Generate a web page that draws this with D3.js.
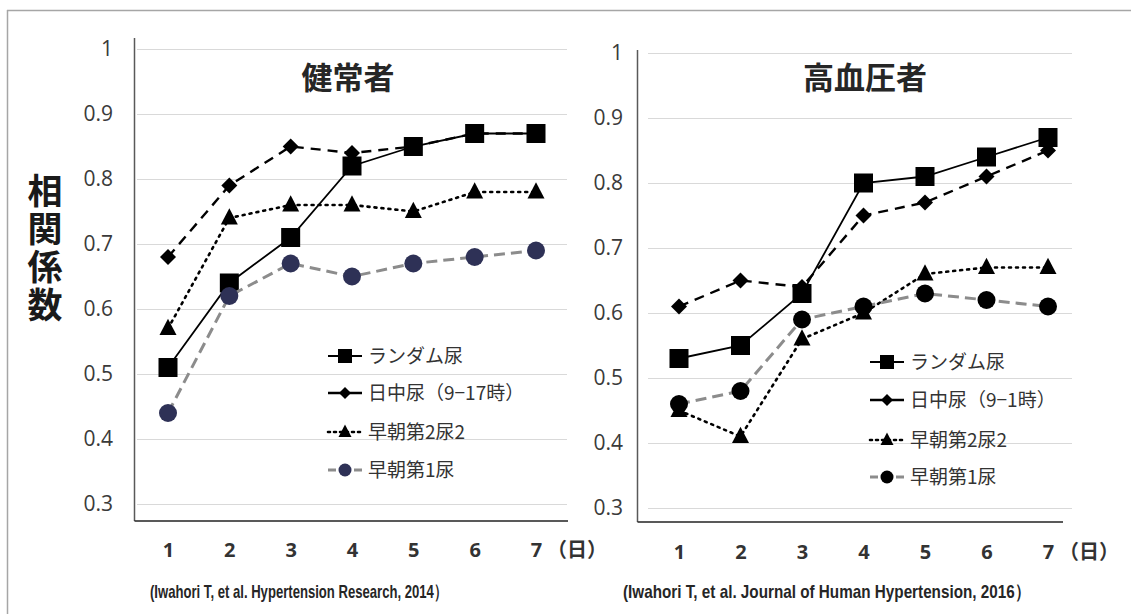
<!DOCTYPE html>
<html><head><meta charset="utf-8">
<script src="https://cdn.jsdelivr.net/npm/d3@7"></script>
<style>
html,body{margin:0;padding:0;background:#fff;}
svg{display:block;}
</style></head>
<body>
<svg id="chart" width="1131" height="614"></svg>
<script>
// ---------- DATA ----------
const days = [1, 2, 3, 4, 5, 6, 7];
const yTicks = [0.3, 0.4, 0.5, 0.6, 0.7, 0.8, 0.9, 1];
const seriesNames = ["ランダム尿", "日中尿（9−17時）", "早朝第2尿2", "早朝第1尿"];
const seriesNamesRight = ["ランダム尿", "日中尿（9−1時）", "早朝第2尿2", "早朝第1尿"];
// 健常者 (healthy)
const healthyRandom = [0.51, 0.64, 0.71, 0.82, 0.85, 0.87, 0.87];
const healthyDaytime = [0.68, 0.79, 0.85, 0.84, 0.85, 0.87, 0.87];
const healthySecond = [0.57, 0.74, 0.76, 0.76, 0.75, 0.78, 0.78];
const healthyFirst = [0.44, 0.62, 0.67, 0.65, 0.67, 0.68, 0.69];
// 高血圧者 (hypertensive)
const hyperRandom = [0.53, 0.55, 0.63, 0.80, 0.81, 0.84, 0.87];
const hyperDaytime = [0.61, 0.65, 0.64, 0.75, 0.77, 0.81, 0.85];
const hyperSecond = [0.45, 0.41, 0.56, 0.60, 0.66, 0.67, 0.67];
const hyperFirst = [0.46, 0.48, 0.59, 0.61, 0.63, 0.62, 0.61];
const titles = ["健常者", "高血圧者"];
const yAxisTitle = "相関係数";
const captions = ["(Iwahori T, et al. Hypertension Research, 2014）", "(Iwahori T, et al. Journal of Human Hypertension, 2016）"];

// ---------- STYLES ----------
const styles = [
  {shape: "square", stroke: "#000", dash: null, width: 1.8},
  {shape: "diamond", stroke: "#000", dash: "10,7", width: 2.4},
  {shape: "triangle", stroke: "#000", dash: "2,5", width: 2.6, cap: "round"},
  {shape: "circle", stroke: "#8c8c8c", dash: "11,6", width: 3}
];

const svg = d3.select("#chart");
const JP = "'Noto Sans CJK JP', 'Noto Sans', sans-serif";
const NUM = "'Open Sans', 'Noto Sans', sans-serif";

// outer frame
svg.append("line").attr("x1", 7).attr("x2", 1131).attr("y1", 10.5).attr("y2", 10.5).attr("stroke", "#a6a6a6").attr("stroke-width", 1.5);
svg.append("line").attr("x1", 7.5).attr("x2", 7.5).attr("y1", 10).attr("y2", 614).attr("stroke", "#a6a6a6").attr("stroke-width", 1.5);

function marker(g, shape, cx, cy, s, fill) {
  if (shape === "square") {
    g.append("rect").attr("x", cx - s / 2).attr("y", cy - s / 2).attr("width", s).attr("height", s).attr("fill", fill);
  } else if (shape === "diamond") {
    const h = s / 2;
    g.append("path").attr("d", `M${cx},${cy - h}L${cx + h},${cy}L${cx},${cy + h}L${cx - h},${cy}Z`).attr("fill", fill);
  } else if (shape === "triangle") {
    const h = s * 0.95;
    g.append("path").attr("d", `M${cx},${cy - h * 0.6}L${cx + s / 2},${cy + h * 0.4}L${cx - s / 2},${cy + h * 0.4}Z`).attr("fill", fill);
  } else {
    g.append("circle").attr("cx", cx).attr("cy", cy).attr("r", s / 2).attr("fill", fill);
  }
}

function panel(cfg) {
  const g = svg.append("g");
  const x = d3.scalePoint().domain(days).range([cfg.x0, cfg.x1]);
  const y = d3.scaleLinear().domain([0.3, 1]).range([cfg.yBottom, cfg.yTop]);

  // gridlines
  g.selectAll("line.grid").data(yTicks).join("line")
    .attr("x1", cfg.gx0).attr("x2", cfg.gx1)
    .attr("y1", d => Math.round(y(d)) + 0.5).attr("y2", d => Math.round(y(d)) + 0.5)
    .attr("stroke", "#d9d9d9").attr("stroke-width", 1);

  // y axis labels via axis generator
  const yAxis = d3.axisLeft(y).tickValues(yTicks).tickSize(0).tickPadding(0)
    .tickFormat(d => d === 1 ? "1" : d3.format(".1f")(d));
  const ya = g.append("g").attr("transform", `translate(${cfg.labelRight},0)`).call(yAxis);
  ya.select(".domain").remove();
  ya.selectAll("text").attr("font-family", NUM).attr("font-size", 21).attr("fill", "#3a3a3a");

  // axis lines
  g.append("line").attr("x1", cfg.axX).attr("x2", cfg.axX).attr("y1", cfg.axTop).attr("y2", cfg.axBottom)
    .attr("stroke", "#595959").attr("stroke-width", 1.5);
  g.append("line").attr("x1", cfg.axX).attr("x2", cfg.axRight).attr("y1", cfg.axBottom).attr("y2", cfg.axBottom)
    .attr("stroke", "#222").attr("stroke-width", 1.6);

  // x axis labels
  const xAxis = d3.axisBottom(x).tickSize(0).tickPadding(0);
  const xa = g.append("g").attr("transform", `translate(0,${cfg.xLabelY})`).call(xAxis);
  xa.select(".domain").remove();
  xa.selectAll("text").attr("font-family", NUM).attr("font-size", 20).attr("font-weight", "bold").attr("fill", "#333").attr("dy", "0.35em");
  g.append("text").attr("x", x(7) + 11).attr("y", cfg.xLabelY).attr("dy", "0.35em")
    .attr("font-family", JP).attr("font-size", 20).attr("font-weight", "bold").attr("fill", "#333")
    .text("（日）");

  // title
  g.append("text").attr("x", cfg.titleX).attr("y", cfg.titleY).attr("dy", "0.35em").attr("text-anchor", "middle")
    .attr("font-family", JP).attr("font-size", 31).attr("font-weight", "bold").attr("fill", "#262626")
    .text(cfg.title);

  // series lines then markers
  cfg.series.forEach((vals, i) => {
    const st = styles[i];
    const line = d3.line().x((d, j) => x(days[j])).y(d => y(d));
    g.append("path").attr("d", line(vals)).attr("fill", "none").attr("stroke", st.stroke)
      .attr("stroke-width", st.width).attr("stroke-dasharray", st.dash).attr("stroke-linecap", st.cap || "butt");
    const mg = g.append("g");
    const sizes = {square: 19, diamond: 16, triangle: 17, circle: 18};
    vals.forEach((v, j) => marker(mg, st.shape, x(days[j]), y(v), sizes[st.shape], i === 3 ? cfg.circleFill : "#000"));
  });

  // legend
  cfg.names.forEach((name, i) => {
    const st = styles[i];
    const ly = cfg.legY[i];
    g.append("line").attr("x1", cfg.legX).attr("x2", cfg.legX + 34).attr("y1", ly).attr("y2", ly)
      .attr("stroke", st.stroke).attr("stroke-width", st.width).attr("stroke-dasharray", i === 2 ? "2,4" : (i === 3 ? "8,18" : null))
      .attr("stroke-linecap", st.cap || "butt");
    const lsz = {square: 14, diamond: 12, triangle: 13, circle: 13};
    marker(g, st.shape, cfg.legX + 17, ly, lsz[st.shape], i === 3 ? cfg.circleFill : "#000");
    g.append("text").attr("x", cfg.legX + 40).attr("y", ly).attr("dy", "0.36em")
      .attr("font-family", JP).attr("font-size", 19).attr("fill", "#333").text(name);
  });

  // caption
  g.append("text").attr("x", cfg.capX).attr("y", 591).attr("dy", "0.35em")
    .attr("font-family", "'Liberation Sans', sans-serif")
    .attr("textLength", cfg.capW).attr("lengthAdjust", "spacingAndGlyphs")
    .attr("font-size", 19).attr("font-weight", "bold").attr("fill", "#262626").text(cfg.caption);
}

panel({
  x0: 168, x1: 536, yTop: 49, yBottom: 504, gx0: 137, gx1: 567,
  labelRight: 113, axX: 134.5, axTop: 38, axBottom: 521, axRight: 568, xLabelY: 550,
  titleX: 348, titleY: 78, title: titles[0], circleFill: "#2e3156",
  series: [healthyRandom, healthyDaytime, healthySecond, healthyFirst], names: seriesNames,
  legX: 328, legY: [356, 393, 432, 470], capX: 150, capW: 297, caption: captions[0]
});
panel({
  x0: 679, x1: 1048, yTop: 53, yBottom: 508, gx0: 648, gx1: 1072,
  labelRight: 623, axX: 637.5, axTop: 50, axBottom: 522, axRight: 1063, xLabelY: 552,
  titleX: 865, titleY: 78, title: titles[1], circleFill: "#000",
  series: [hyperRandom, hyperDaytime, hyperSecond, hyperFirst], names: seriesNamesRight,
  legX: 870, legY: [362, 400, 440, 477], capX: 623, capW: 407, caption: captions[1]
});

// y axis title (vertical)
svg.append("text")
  .attr("x", 45).attr("y", 173)
  .attr("writing-mode", "vertical-rl").attr("glyph-orientation-vertical", 0)
  .attr("letter-spacing", 3)
  .attr("font-family", JP).attr("font-size", 35).attr("font-weight", "bold").attr("fill", "#1a1a1a")
  .text(yAxisTitle);
</script>
</body></html>
